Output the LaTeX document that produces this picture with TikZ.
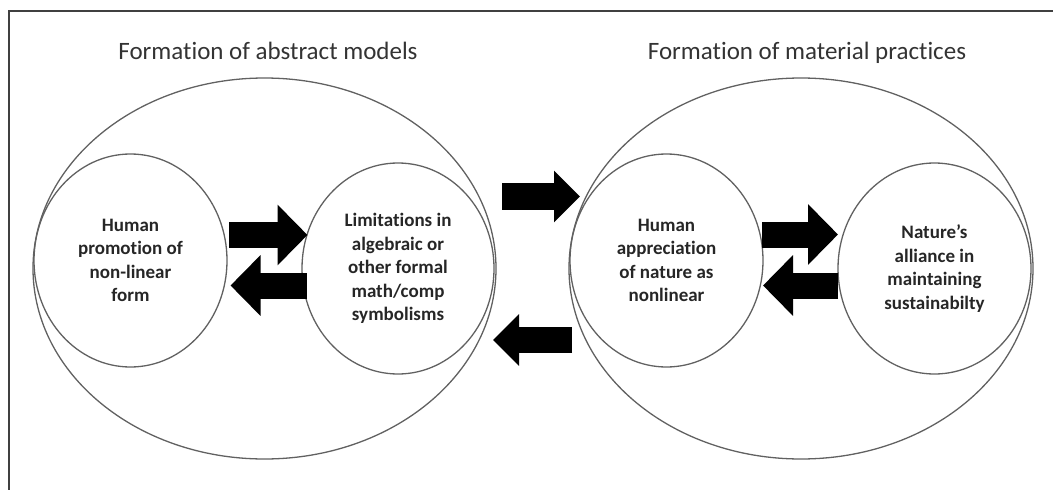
\documentclass[tikz,border=0pt]{standalone}
\usepackage{fontspec}
\setmainfont{Carlito}[Ligatures=NoCommon]
\usetikzlibrary{shapes.geometric,arrows.meta}
\begin{document}
\begin{tikzpicture}[x=1pt,y=-1pt,
  every node/.style={inner sep=0pt, outer sep=0pt},
  frame/.style={draw=black!75, line width=2pt},
  outerell/.style={ellipse, draw=black!62, line width=1.3pt},
  innerell/.style={ellipse, draw=black!62, line width=1.3pt, align=center,
     font=\bfseries\fontsize{19}{23.5}\selectfont, text=black!85},
  titletext/.style={font=\fontsize{25}{30}\selectfont, text=black!80, anchor=base},
  pairarrow/.style={line width=26pt, -{Triangle[length=30pt,width=59pt]}},
  midarrow/.style={line width=26.5pt, -{Triangle[length=26pt,width=50pt]}},
]
\useasboundingbox (0,0) rectangle (1053,490);
% frame (cropped)
\draw[frame] (1053,11) -- (8.5,11) -- (8.5,490);
% titles
\node[titletext] (t1) at (268,59.5) {Formation of abstract models};
\node[titletext] (t2) at (807,59.5) {Formation of material practices};
% outer ellipses
\node[outerell, minimum width=463pt, minimum height=381pt] (E1) at (264.5,268.5) {};
\node[outerell, minimum width=464pt, minimum height=381pt] (E2) at (801,268.5) {};
% inner circles
\node[innerell, minimum width=193pt, minimum height=213pt] (C1) at (130.5,260.5)
  {Human\\promotion of\\non-linear\\form};
\node[innerell, minimum width=192pt, minimum height=211pt] (C2) at (398,268.5)
  {Limitations in\\algebraic or\\other formal\\math/comp\\symbolisms};
\node[innerell, minimum width=193pt, minimum height=213pt] (C3) at (666.5,260.5)
  {Human\\appreciation\\of nature as\\nonlinear};
\node[innerell, minimum width=193pt, minimum height=211pt] (C4) at (934.5,268.5)
  {Nature’s\\alliance in\\maintaining\\sustainabilty};
% arrow anchor coordinates
\coordinate (a1s) at (229,235);   \coordinate (a1e) at (307.5,235);
\coordinate (a2s) at (307,285.5); \coordinate (a2e) at (230.5,285.5);
\coordinate (a3s) at (502,196.5); \coordinate (a3e) at (580,196.5);
\coordinate (a4s) at (572,340);   \coordinate (a4e) at (493,340);
\coordinate (a5s) at (762,234.5); \coordinate (a5e) at (838,234.5);
\coordinate (a6s) at (838,285.5); \coordinate (a6e) at (763,285.5);
% arrows
\draw[pairarrow] (a1s) -- (a1e);
\draw[pairarrow] (a2s) -- (a2e);
\draw[midarrow] (a3s) -- (a3e);
\draw[midarrow] (a4s) -- (a4e);
\draw[pairarrow] (a5s) -- (a5e);
\draw[pairarrow] (a6s) -- (a6e);
\end{tikzpicture}
\end{document}
